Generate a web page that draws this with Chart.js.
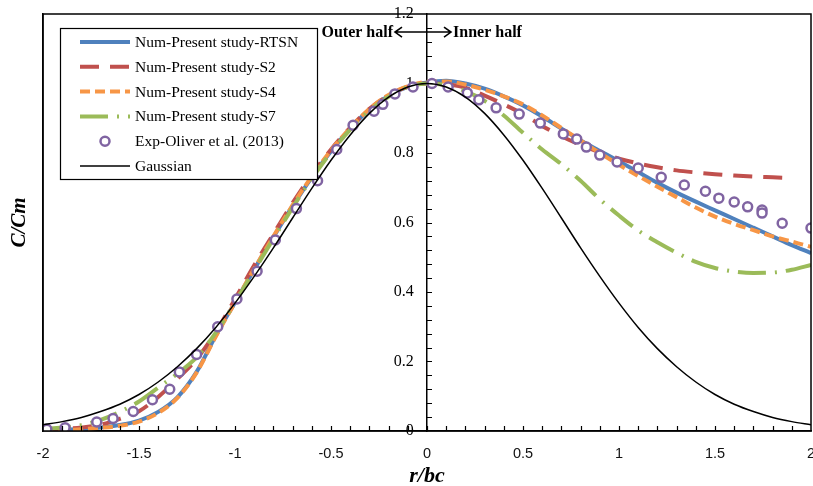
<!DOCTYPE html>
<html>
<head>
<meta charset="utf-8">
<script src="https://cdn.jsdelivr.net/npm/chart.js@4/dist/chart.umd.min.js"></script>
<style>
  html, body { margin: 0; padding: 0; background: #fff; }
</style>
</head>
<body>
<canvas id="c" width="813" height="486"></canvas>
<script>
'use strict';

// r/bc positions used for the simulated curves (-2 .. 2, step 0.1)
const R = [-2.0,-1.9,-1.8,-1.7,-1.6,-1.5,-1.4,-1.3,-1.2,-1.1,-1.0,-0.9,-0.8,-0.7,-0.6,-0.5,-0.4,-0.3,-0.2,-0.1,
            0.0, 0.1, 0.2, 0.3, 0.4, 0.5, 0.6, 0.7, 0.8, 0.9, 1.0, 1.1, 1.2, 1.3, 1.4, 1.5, 1.6, 1.7, 1.8, 1.9, 2.0];

const RTSN = [0.003,0.004,0.006,0.010,0.017,0.030,0.055,0.097,0.170,0.275,0.370,0.465,0.558,0.647,0.730,0.805,0.870,0.925,0.965,0.990,
              1.003,1.008,1.000,0.985,0.963,0.937,0.905,0.870,0.836,0.806,0.776,0.745,0.714,0.686,0.660,0.635,0.610,0.585,0.560,0.535,0.512];

const S2_R = [-2.0,-1.9,-1.8,-1.7,-1.6,-1.5,-1.4,-1.3,-1.2,-1.1,-1.0,-0.9,-0.8,-0.7,-0.6,-0.5,-0.4,-0.3,-0.2,-0.1,
               0.0, 0.1, 0.2, 0.3, 0.4, 0.5, 0.6, 0.7, 0.8, 0.9, 1.0, 1.1, 1.2, 1.3, 1.4, 1.5, 1.6, 1.7, 1.8, 1.85];
const S2 = [0.003,0.006,0.010,0.018,0.035,0.057,0.098,0.150,0.207,0.285,0.380,0.477,0.567,0.656,0.738,0.810,0.873,0.927,0.966,0.991,
            1.000,0.998,0.988,0.965,0.940,0.912,0.878,0.848,0.823,0.802,0.784,0.770,0.759,0.750,0.744,0.739,0.735,0.732,0.730,0.729];

const S4 = [0.002,0.003,0.005,0.009,0.015,0.027,0.052,0.095,0.168,0.272,0.370,0.467,0.560,0.650,0.733,0.808,0.872,0.927,0.967,0.992,
            1.005,1.006,0.997,0.982,0.963,0.940,0.908,0.872,0.836,0.800,0.766,0.734,0.703,0.673,0.643,0.617,0.596,0.578,0.560,0.545,0.530];

const S7 = [0.006,0.010,0.017,0.032,0.055,0.085,0.125,0.165,0.212,0.283,0.370,0.462,0.553,0.643,0.727,0.802,0.867,0.922,0.962,0.990,
            1.000,0.995,0.978,0.950,0.908,0.858,0.810,0.768,0.720,0.667,0.620,0.577,0.543,0.513,0.487,0.469,0.459,0.455,0.456,0.464,0.478];

const GAUSS = [0.018,0.027,0.039,0.056,0.077,0.105,0.141,0.185,0.237,0.298,0.368,0.445,0.527,0.613,0.698,0.779,0.852,0.914,0.961,0.990,
               1.000,0.990,0.961,0.914,0.852,0.779,0.698,0.613,0.527,0.445,0.368,0.298,0.237,0.185,0.141,0.105,0.077,0.056,0.039,0.027,0.018];

// Oliver et al. (2013) measurements
const EXP_R = [-1.98,-1.885,-1.72,-1.635,-1.53,-1.43,-1.34,-1.29,-1.20,-1.09,-0.99,-0.885,-0.79,-0.68,-0.57,-0.47,-0.385,-0.276,-0.23,-0.167,-0.073,
                0.026,0.11,0.21,0.27,0.36,0.48,0.59,0.71,0.78,0.83,0.90,0.99,1.10,1.22,1.34,1.45,1.52,1.60,1.67,1.745,1.745,1.85,2.0];
const EXP_C = [0.005,0.009,0.026,0.036,0.056,0.09,0.12,0.17,0.22,0.30,0.38,0.46,0.55,0.64,0.72,0.81,0.88,0.92,0.94,0.97,0.99,
               1.0,0.99,0.973,0.953,0.93,0.912,0.886,0.855,0.84,0.817,0.794,0.774,0.757,0.73,0.708,0.69,0.67,0.659,0.645,0.636,0.627,0.598,0.584];

const X_TICKS = { min: -2, max: 2, step: 0.5, minor: 0.1 };
const Y_TICKS = { min: 0, max: 1.2, step: 0.2, minor: 0.04 };

const pts = (xs, ys) => xs.map((x, i) => ({ x, y: ys[i] }));
const num = v => String(Math.round(v * 100) / 100);

const SERIF = "'Liberation Serif', 'DejaVu Serif', serif";
const NARROW = "'Liberation Sans Narrow', 'Liberation Sans', sans-serif";

function line(label, data, color, dash, width, order) {
  return {
    label, data, order,
    showLine: true,
    borderColor: color,
    backgroundColor: color,
    borderWidth: width,
    borderDash: dash,
    borderCapStyle: 'butt',
    pointRadius: 0,
    fill: false,
    cubicInterpolationMode: 'monotone',
  };
}

const datasets = [
  line('Num-Present study-RTSN', pts(R, RTSN), '#4F81BD', [], 4, 6),
  line('Num-Present study-S2', pts(S2_R, S2), '#C0504D', [19, 11], 4, 5),
  line('Num-Present study-S4', pts(R, S4), '#F79646', [10, 5], 4, 4),
  line('Num-Present study-S7', pts(R, S7), '#9BBB59', [28, 9, 2, 9], 4, 3),
  {
    label: 'Exp-Oliver et al. (2013)', data: pts(EXP_R, EXP_C), order: 2,
    showLine: false, pointStyle: 'circle', pointRadius: 4.5,
    borderColor: '#8064A2', backgroundColor: '#fff', pointBorderWidth: 2.5,
  },
  line('Gaussian', pts(R, GAUSS), '#000', [], 1.5, 1),
];

// ── frame, minor ticks, annotation, legend ─────────────────────────────────

const decor = {
  id: 'decor',
  afterDatasetsDraw(chart) {
    const { ctx, chartArea: a, scales: { x, y } } = chart;
    ctx.save();
    ctx.strokeStyle = '#000';
    ctx.lineWidth = 1.5;
    ctx.strokeRect(a.left, a.top, a.right - a.left, a.bottom - a.top);

    // tick marks: x upward from bottom, y to the right of the centre axis
    ctx.lineWidth = 1.2;
    ctx.beginPath();
    const x0 = x.getPixelForValue(0);
    for (let i = 1; i < 40; i++) {
      const px = Math.round(x.getPixelForValue(X_TICKS.min + i * X_TICKS.minor)) + 0.5;
      ctx.moveTo(px, a.bottom); ctx.lineTo(px, a.bottom - 5);
    }
    for (let i = 1; i < 30; i++) {
      const py = Math.round(y.getPixelForValue(Y_TICKS.min + i * Y_TICKS.minor)) + 0.5;
      ctx.moveTo(x0, py); ctx.lineTo(x0 + 5, py);
    }
    ctx.stroke();

    // Outer half <-> Inner half
    const ay = y.getPixelForValue(1.148);
    ctx.font = 'bold 16px ' + SERIF;
    ctx.fillStyle = '#000';
    ctx.textBaseline = 'middle';
    ctx.textAlign = 'right';
    ctx.fillText('Outer half', x0 - 34, ay + 1);
    ctx.textAlign = 'left';
    ctx.fillText('Inner half', x0 + 26, ay + 1);
    ctx.lineWidth = 1.6;
    ctx.beginPath();
    ctx.moveTo(x0 - 32, ay); ctx.lineTo(x0 + 24, ay);
    ctx.moveTo(x0 - 25, ay - 5); ctx.lineTo(x0 - 32, ay); ctx.lineTo(x0 - 25, ay + 5);
    ctx.moveTo(x0 + 17, ay - 5); ctx.lineTo(x0 + 24, ay); ctx.lineTo(x0 + 17, ay + 5);
    ctx.stroke();
    ctx.restore();
  },
  afterDraw(chart) {
    const ctx = chart.ctx;
    const bx = 60, by = 28, bw = 257, bh = 151;
    ctx.save();
    ctx.fillStyle = '#fff';
    ctx.fillRect(bx, by, bw, bh);
    ctx.strokeStyle = '#000';
    ctx.lineWidth = 1.2;
    ctx.strokeRect(bx + 0.5, by + 0.5, bw, bh);
    ctx.font = '15.5px ' + SERIF;
    ctx.textBaseline = 'middle';
    ctx.textAlign = 'left';
    chart.data.datasets.forEach((ds, i) => {
      const yy = 42 + i * 24.8;
      if (ds.showLine) {
        ctx.beginPath();
        ctx.strokeStyle = ds.borderColor;
        ctx.lineWidth = ds.borderWidth;
        ctx.setLineDash(ds.borderDash);
        ctx.moveTo(80, yy); ctx.lineTo(130, yy);
        ctx.stroke();
        ctx.setLineDash([]);
      } else {
        ctx.beginPath();
        ctx.strokeStyle = ds.borderColor;
        ctx.lineWidth = ds.pointBorderWidth;
        ctx.arc(105, yy, ds.pointRadius, 0, Math.PI * 2);
        ctx.stroke();
      }
      ctx.fillStyle = '#000';
      ctx.fillText(ds.label, 135, yy + 1);
    });
    ctx.restore();
  },
};

new Chart(document.getElementById('c').getContext('2d'), {
  type: 'scatter',
  data: { datasets },
  plugins: [decor],
  options: {
    responsive: false,
    animation: false,
    layout: { autoPadding: false, padding: { left: 0, top: 14, right: 2, bottom: 0 } },
    plugins: { legend: { display: false }, tooltip: { enabled: false } },
    scales: {
      x: {
        type: 'linear', position: 'bottom', min: X_TICKS.min, max: X_TICKS.max,
        ticks: { stepSize: X_TICKS.step, padding: 14, color: '#111', callback: num,
                 font: { family: NARROW, size: 14.5 } },
        grid: { display: false, drawTicks: false },
        border: { display: true, color: '#000', width: 1.5 },
        title: { display: true, text: 'r/bc', color: '#000', padding: { top: 0, bottom: -4 },
                 font: { family: SERIF, size: 22, weight: 'bold', style: 'italic' } },
        afterFit: s => { s.height = 55; s.paddingLeft = 0; s.paddingRight = 0; },
      },
      y: {
        type: 'linear', position: { x: 0 }, min: Y_TICKS.min, max: Y_TICKS.max,
        ticks: { stepSize: Y_TICKS.step, color: '#000', callback: v => num(v) + '\u2002\u2004',
                 font: { family: SERIF, size: 16 } },
        grid: { display: false, drawTicks: false },
        border: { display: true, color: '#000', width: 1.5 },
        afterFit: s => {
          s.width = 0;
          s.paddingTop = 0; s.paddingBottom = 0; s.paddingLeft = 0; s.paddingRight = 0;
        },
      },
      yL: {
        type: 'linear', position: 'left', min: Y_TICKS.min, max: Y_TICKS.max,
        ticks: { display: false },
        grid: { display: false, drawTicks: false },
        border: { display: true, color: '#000', width: 1.5 },
        title: { display: true, text: 'C/Cm', color: '#000', padding: { top: 7, bottom: 0 },
                 font: { family: SERIF, size: 21, weight: 'bold', style: 'italic' } },
        afterFit: s => { s.width = 43; s.paddingTop = 0; s.paddingBottom = 0; },
      },
    },
  },
});
</script>
</body>
</html>
